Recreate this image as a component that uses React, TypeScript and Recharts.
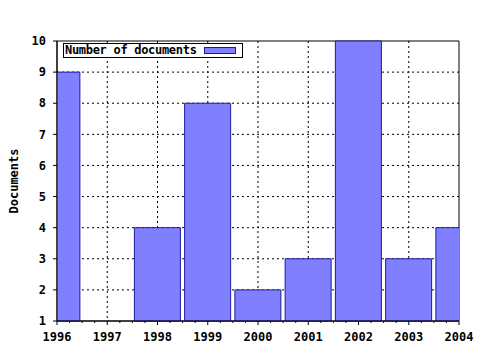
import React from 'react';
import { BarChart, Bar, XAxis, YAxis, CartesianGrid, Legend, ReferenceArea } from 'recharts';

const years = [1996, 1997, 1998, 1999, 2000, 2001, 2002, 2003, 2004];
const documents: (number | null)[] = [9, null, 4, 8, 2, 3, 10, 3, 4];
const yTicks = [1, 2, 3, 4, 5, 6, 7, 8, 9, 10];
const xTicks = years.flatMap((y, i) =>
  i < years.length - 1 ? [y, y + 0.25, y + 0.5, y + 0.75] : [y]
);
const innerYears = years.slice(1, -1);
const innerYTicks = yTicks.slice(1, -1);

const data = years.map((year, i) => ({ year, documents: documents[i] }));

const FONT = '"DejaVu Sans Mono", monospace';
const BAR_FILL = '#8080ff';
const BAR_STROKE = '#1a1aa0';

function BottomTick(props: any) {
  const { x, y, payload } = props;
  const major = Number.isInteger(payload.value);
  return (
    <g>
      <line x1={x} x2={x} y1={y} y2={y + (major ? 4 : 2)} stroke="#000" />
      {major && (
        <text
          x={x}
          y={y + 16}
          textAnchor="middle"
          dominantBaseline="central"
          fontFamily={FONT}
          fontWeight="bold"
          fontSize={12}
          fill="#000"
        >
          {payload.value}
        </text>
      )}
    </g>
  );
}

function TopTick(props: any) {
  const { x, y, payload } = props;
  const major = Number.isInteger(payload.value);
  return <line x1={x} x2={x} y1={y} y2={y - (major ? 4 : 2)} stroke="#000" />;
}

function YLabel(props: any) {
  const vb = props.viewBox || { x: 0, y: 41, width: 57, height: 280 };
  const cx = vb.x + 13.5;
  const cy = vb.y + vb.height / 2;
  return (
    <text
      x={cx}
      y={cy}
      transform={`rotate(-90 ${cx} ${cy})`}
      textAnchor="middle"
      dominantBaseline="central"
      fontFamily={FONT}
      fontWeight="bold"
      fontSize={12}
      fill="#000"
    >
      Documents
    </text>
  );
}

function LegendBox() {
  return (
    <div
      style={{
        position: 'relative',
        width: 180,
        height: 15,
        border: '1px solid #000',
        boxSizing: 'border-box',
        background: '#fff',
      }}
    >
      <span
        style={{
          position: 'absolute',
          left: 1,
          top: 0,
          lineHeight: '13px',
          fontFamily: FONT,
          fontWeight: 'bold',
          fontSize: 12,
          color: '#000',
          whiteSpace: 'nowrap',
          letterSpacing: -0.3,
        }}
      >
        Number of documents
      </span>
      <div
        style={{
          position: 'absolute',
          left: 140,
          top: 3,
          width: 32,
          height: 7,
          background: BAR_FILL,
          border: `1px solid ${BAR_STROKE}`,
          boxSizing: 'border-box',
        }}
      />
    </div>
  );
}

export default function App() {
  return (
    <div style={{ position: 'absolute', left: 0, top: 0, width: 480, height: 350, background: '#fff' }}>
      <BarChart
        width={480}
        height={350}
        data={data}
        margin={{ top: 41, right: 21, bottom: 9, left: 0 }}
      >
        <CartesianGrid
          stroke="#000"
          strokeDasharray="2 3"
          verticalValues={innerYears}
          horizontalValues={innerYTicks}
        />
        <XAxis
          dataKey="year"
          type="number"
          domain={[1996, 2004]}
          ticks={xTicks}
          interval={0}
          allowDataOverflow
          height={20}
          tickSize={0}
          tickMargin={0}
          tickLine={false}
          axisLine={{ stroke: '#000' }}
          tick={<BottomTick />}
        />
        <XAxis
          xAxisId="top"
          orientation="top"
          dataKey="year"
          type="number"
          domain={[1996, 2004]}
          ticks={xTicks}
          interval={0}
          allowDataOverflow
          height={0}
          tickSize={0}
          tickMargin={0}
          tickLine={false}
          axisLine={{ stroke: '#000' }}
          tick={<TopTick />}
        />
        <YAxis
          type="number"
          domain={[1, 10]}
          ticks={yTicks}
          interval={0}
          width={57}
          tickSize={4}
          tickMargin={7}
          axisLine={{ stroke: '#000' }}
          tickLine={{ stroke: '#000' }}
          tick={{ fill: '#000', fontFamily: FONT, fontWeight: 'bold', fontSize: 12 }}
          label={<YLabel />}
        />
        <Legend
          layout="vertical"
          align="center"
          verticalAlign="middle"
          wrapperStyle={{ position: 'absolute', left: 63, top: 43, width: 180, height: 15 }}
          content={() => <LegendBox />}
        />
        <Bar
          dataKey="documents"
          name="Number of documents"
          fill={BAR_FILL}
          stroke={BAR_STROKE}
          strokeWidth={1}
          barSize={46}
          isAnimationActive={false}
        />
        <ReferenceArea
          x1={years[0]}
          x2={years[years.length - 1]}
          y1={yTicks[0]}
          y2={yTicks[yTicks.length - 1]}
          fill="none"
          fillOpacity={0}
          stroke="#000"
          strokeOpacity={1}
          ifOverflow="visible"
        />
      </BarChart>
    </div>
  );
}
